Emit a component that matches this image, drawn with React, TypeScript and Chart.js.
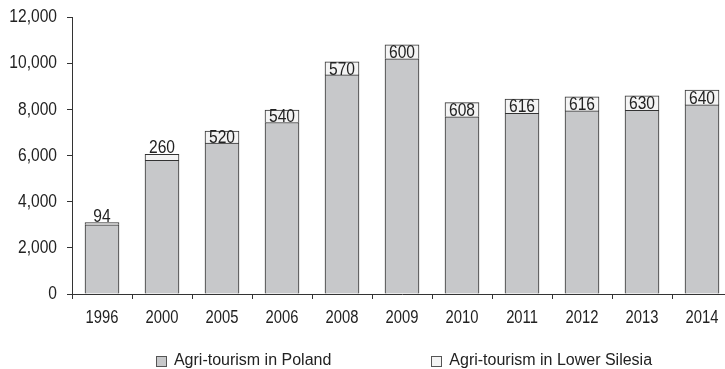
import React, { useEffect, useRef } from "react";
import { Chart, registerables } from "chart.js";

Chart.register(...registerables);

const years = ["1996", "2000", "2005", "2006", "2008", "2009", "2010", "2011", "2012", "2013", "2014"];
const poland = [3000, 5790, 6540, 7430, 9490, 10190, 7680, 7830, 7930, 7960, 8190];
const lowerSilesia = [94, 260, 520, 540, 570, 600, 608, 616, 616, 630, 640];
const seriesNames = ["Agri-tourism in Poland", "Agri-tourism in Lower Silesia"];
const yTicks = [0, 2000, 4000, 6000, 8000, 10000, 12000];

const FONT = "'Liberation Sans', Arial, sans-serif";
const TEXT = "#222222";
const NARROW = 0.82;

function narrowText(ctx: any, txt: string, x: number, y: number, size: number, align: string, baseline: string) {
  ctx.save();
  ctx.font = `${size}px ${FONT}`;
  ctx.fillStyle = TEXT;
  ctx.textAlign = align;
  ctx.textBaseline = baseline;
  ctx.translate(x, y);
  ctx.scale(NARROW, 1);
  ctx.fillText(txt, 0, 0);
  ctx.restore();
}

const axisLabels = {
  id: "axisLabels",
  afterDraw(chart: any) {
    const ctx = chart.ctx;
    const ys = chart.scales.y;
    const xs = chart.scales.x;
    yTicks.forEach((v) => {
      narrowText(ctx, v.toLocaleString("en-US"), 57, ys.getPixelForValue(v), 19, "right", "middle");
    });
    years.forEach((lab, i) => {
      narrowText(ctx, lab, xs.getPixelForValue(i), 318, 18, "center", "middle");
    });
  },
};

const valueLabels = {
  id: "valueLabels",
  afterDatasetsDraw(chart: any) {
    const ctx = chart.ctx;
    const meta = chart.getDatasetMeta(1);
    meta.data.forEach((el: any, i: number) => {
      const h = el.base - el.y;
      const txt = String(lowerSilesia[i]);
      if (h >= 10) {
        narrowText(ctx, txt, el.x, (el.y + el.base) / 2 + 1, 19, "center", "middle");
      } else {
        narrowText(ctx, txt, el.x, el.y - 1, 19, "center", "alphabetic");
      }
    });
  },
};

const customLegend = {
  id: "customLegend",
  afterDraw(chart: any) {
    const ctx = chart.ctx;
    const area = chart.chartArea;
    ctx.save();
    ctx.font = `16px ${FONT}`;
    const box = 10;
    const boxGap = 8;
    const itemGap = 100;
    const ds = chart.data.datasets;
    const widths = ds.map((d: any) => box + boxGap + ctx.measureText(d.label).width);
    const total = widths.reduce((a: number, b: number) => a + b, 0) + itemGap * (ds.length - 1);
    let x = (area.left + area.right) / 2 + 2 - total / 2;
    const yMid = 361;
    ds.forEach((d: any, i: number) => {
      const bx = Math.round(x) + 0.5;
      ctx.fillStyle = d.backgroundColor;
      ctx.strokeStyle = "#555555";
      ctx.lineWidth = 1;
      ctx.fillRect(bx, yMid - box / 2 + 0.5, box, box);
      ctx.strokeRect(bx, yMid - box / 2 + 0.5, box, box);
      ctx.fillStyle = TEXT;
      ctx.textAlign = "left";
      ctx.textBaseline = "middle";
      ctx.fillText(d.label, x + box + boxGap, yMid);
      x += widths[i] + itemGap;
    });
    ctx.restore();
  },
};

export default function App() {
  const ref = useRef<HTMLCanvasElement>(null);
  useEffect(() => {
    const chart = new Chart(ref.current as HTMLCanvasElement, {
      type: "bar",
      data: {
        labels: years,
        datasets: [
          {
            label: seriesNames[0],
            data: poland,
            backgroundColor: "#c7c8ca",
            borderColor: "#333333",
            borderWidth: 1,
            barThickness: 34,
          },
          {
            label: seriesNames[1],
            data: lowerSilesia,
            backgroundColor: "#f4f4f4",
            borderColor: "#333333",
            borderWidth: 1,
            barThickness: 34,
          },
        ],
      },
      options: {
        responsive: false,
        animation: false,
        devicePixelRatio: 1,
        layout: { padding: { left: 0, right: 8, top: 17, bottom: 0 } },
        plugins: { legend: { display: false }, tooltip: { enabled: false } },
        scales: {
          x: {
            stacked: true,
            grid: { drawOnChartArea: false, tickLength: 5, color: "#333333", offset: true },
            border: { color: "#333333", width: 1 },
            ticks: { display: false },
            afterFit: (s: any) => {
              s.height = 75;
            },
          },
          y: {
            stacked: true,
            min: 0,
            max: 12000,
            afterBuildTicks: (s: any) => {
              s.ticks = yTicks.map((v) => ({ value: v }));
            },
            grid: { drawOnChartArea: false, tickLength: 5, color: "#333333" },
            border: { color: "#333333", width: 1 },
            ticks: { display: false },
            afterFit: (s: any) => {
              s.width = 72;
            },
          },
        },
      },
      plugins: [valueLabels, axisLabels, customLegend],
    });
    return () => chart.destroy();
  }, []);
  return (
    <div style={{ position: "fixed", left: 0, top: 0, width: 725, height: 369, overflow: "hidden", background: "#fff" }}>
      <canvas ref={ref} width={740} height={369} style={{ width: 740, height: 369, display: "block" }} />
    </div>
  );
}
